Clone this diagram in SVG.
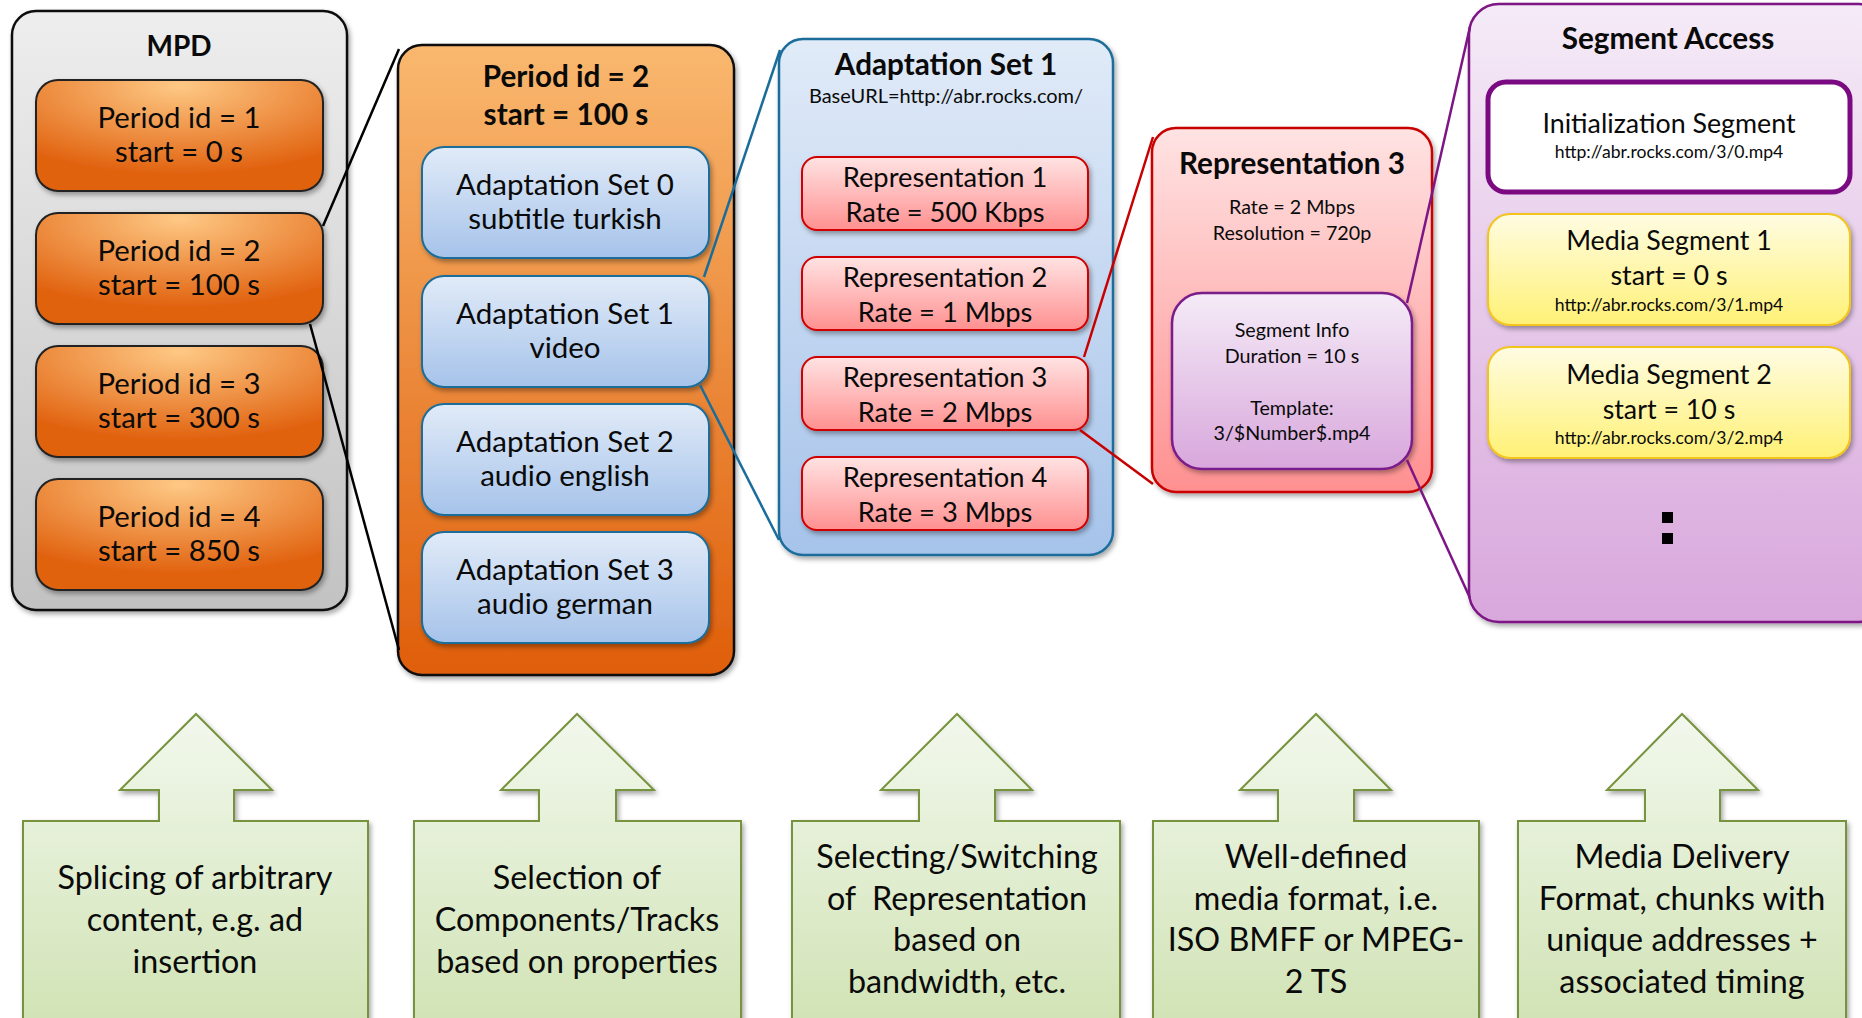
<svg xmlns="http://www.w3.org/2000/svg" width="1862" height="1018" viewBox="0 0 1862 1018">
<defs>
<style>
text{font-family:Lato,"Open Sans","Liberation Sans",sans-serif;fill:#0a0a0a;text-anchor:middle}
.b{font-weight:bold}
.tp{font-size:29.3px}
.ta{font-size:29.5px}
.tr{font-size:27.3px}
.tm{font-size:26.8px}
.tb{font-size:29.7px}
.ts{font-size:19.7px}
.tu{font-size:20px}
.t17{font-size:17.6px}
.bt{font-size:32.3px}
.con{fill:none;stroke-width:2.5}
</style>
<filter id="sh" x="-10%" y="-10%" width="125%" height="125%">
<feDropShadow dx="2" dy="3" stdDeviation="2.5" flood-color="#000" flood-opacity="0.35"/>
</filter>
<linearGradient id="gMpd" x1="0" y1="0" x2="0" y2="1"><stop offset="0" stop-color="#eeeeee"/><stop offset="1" stop-color="#c2c2c2"/></linearGradient>
<radialGradient id="gPer" cx="0.5" cy="0.05" r="0.8"><stop offset="0" stop-color="#fec985"/><stop offset="1" stop-color="#e1620f"/></radialGradient>
<linearGradient id="gPerBig" x1="0" y1="0" x2="0" y2="1"><stop offset="0" stop-color="#f9b86f"/><stop offset="1" stop-color="#df5e0a"/></linearGradient>
<linearGradient id="gBlue" x1="0" y1="0" x2="0" y2="1"><stop offset="0" stop-color="#e1ebf8"/><stop offset="1" stop-color="#a6c3ea"/></linearGradient>
<linearGradient id="gRed" x1="0" y1="0" x2="0" y2="1"><stop offset="0" stop-color="#ffe3e3"/><stop offset="1" stop-color="#ff9090"/></linearGradient>
<linearGradient id="gPur" x1="0" y1="0" x2="0" y2="1"><stop offset="0" stop-color="#f5ebf7"/><stop offset="1" stop-color="#d8a7dc"/></linearGradient>
<linearGradient id="gYel" x1="0" y1="0" x2="0" y2="1"><stop offset="0" stop-color="#fffce2"/><stop offset="1" stop-color="#fff176"/></linearGradient>
<linearGradient id="gGrn" x1="0" y1="0" x2="0" y2="1"><stop offset="0" stop-color="#f2f8ed"/><stop offset="1" stop-color="#cfe2b2"/></linearGradient>
</defs>
<rect width="1862" height="1018" fill="#ffffff"/>

<g id="mpd">
<rect x="12" y="11" width="335" height="599" rx="24" fill="url(#gMpd)" stroke="#111" stroke-width="2.5" filter="url(#sh)"/>
<text x="179" y="56" class="b" style="font-size:28px">MPD</text>
</g>
<g id="period1">
<rect x="36" y="80" width="287" height="111" rx="22" fill="url(#gPer)" stroke="#222" stroke-width="2" filter="url(#sh)"/>
<text x="179" y="128" class="tp">Period id = 1</text>
<text x="179" y="162" class="tp">start = 0 s</text>
</g>
<g id="period2">
<rect x="36" y="213" width="287" height="111" rx="22" fill="url(#gPer)" stroke="#222" stroke-width="2" filter="url(#sh)"/>
<text x="179" y="261" class="tp">Period id = 2</text>
<text x="179" y="295" class="tp">start = 100 s</text>
</g>
<g id="period3">
<rect x="36" y="346" width="287" height="111" rx="22" fill="url(#gPer)" stroke="#222" stroke-width="2" filter="url(#sh)"/>
<text x="179" y="394" class="tp">Period id = 3</text>
<text x="179" y="428" class="tp">start = 300 s</text>
</g>
<g id="period4">
<rect x="36" y="479" width="287" height="111" rx="22" fill="url(#gPer)" stroke="#222" stroke-width="2" filter="url(#sh)"/>
<text x="179" y="527" class="tp">Period id = 4</text>
<text x="179" y="561" class="tp">start = 850 s</text>
</g>

<g id="periodDetail">
<rect x="398" y="45" width="336" height="630" rx="24" fill="url(#gPerBig)" stroke="#111" stroke-width="2.5" filter="url(#sh)"/>
<text x="566" y="87" class="b tb">Period id = 2</text>
<text x="566" y="125" class="b tb">start = 100 s</text>
</g>
<g id="as0">
<rect x="422" y="147" width="287" height="111" rx="22" fill="url(#gBlue)" stroke="#1a6d9a" stroke-width="2" filter="url(#sh)"/>
<text x="565" y="195" class="ta">Adaptation Set 0</text>
<text x="565" y="229" class="ta">subtitle turkish</text>
</g>
<g id="as1">
<rect x="422" y="276" width="287" height="111" rx="22" fill="url(#gBlue)" stroke="#1a6d9a" stroke-width="2" filter="url(#sh)"/>
<text x="565" y="324" class="ta">Adaptation Set 1</text>
<text x="565" y="358" class="ta">video</text>
</g>
<g id="as2">
<rect x="422" y="404" width="287" height="111" rx="22" fill="url(#gBlue)" stroke="#1a6d9a" stroke-width="2" filter="url(#sh)"/>
<text x="565" y="452" class="ta">Adaptation Set 2</text>
<text x="565" y="486" class="ta">audio english</text>
</g>
<g id="as3">
<rect x="422" y="532" width="287" height="111" rx="22" fill="url(#gBlue)" stroke="#1a6d9a" stroke-width="2" filter="url(#sh)"/>
<text x="565" y="580" class="ta">Adaptation Set 3</text>
<text x="565" y="614" class="ta">audio german</text>
</g>

<g id="asDetail">
<rect x="779" y="39" width="334" height="516" rx="24" fill="url(#gBlue)" stroke="#1a6d9a" stroke-width="2.5" filter="url(#sh)"/>
<text x="946" y="75" class="b tb">Adaptation Set 1</text>
<text x="946" y="103" class="tu">BaseURL=http://abr.rocks.com/</text>
</g>
<g id="rep1">
<rect x="802" y="157" width="286" height="73" rx="15" fill="url(#gRed)" stroke="#d10000" stroke-width="2" filter="url(#sh)"/>
<text x="945" y="187" class="tr">Representation 1</text>
<text x="945" y="222" class="tr">Rate = 500 Kbps</text>
</g>
<g id="rep2">
<rect x="802" y="257" width="286" height="73" rx="15" fill="url(#gRed)" stroke="#d10000" stroke-width="2" filter="url(#sh)"/>
<text x="945" y="287" class="tr">Representation 2</text>
<text x="945" y="322" class="tr">Rate = 1 Mbps</text>
</g>
<g id="rep3">
<rect x="802" y="357" width="286" height="73" rx="15" fill="url(#gRed)" stroke="#d10000" stroke-width="2" filter="url(#sh)"/>
<text x="945" y="387" class="tr">Representation 3</text>
<text x="945" y="422" class="tr">Rate = 2 Mbps</text>
</g>
<g id="rep4">
<rect x="802" y="457" width="286" height="73" rx="15" fill="url(#gRed)" stroke="#d10000" stroke-width="2" filter="url(#sh)"/>
<text x="945" y="487" class="tr">Representation 4</text>
<text x="945" y="522" class="tr">Rate = 3 Mbps</text>
</g>

<g id="repDetail">
<rect x="1152" y="128" width="280" height="364" rx="24" fill="url(#gRed)" stroke="#c80000" stroke-width="2.5" filter="url(#sh)"/>
<text x="1292" y="174" class="b tb">Representation 3</text>
<text x="1292" y="214" class="ts">Rate = 2 Mbps</text>
<text x="1292" y="240" class="ts">Resolution = 720p</text>
</g>
<g id="segInfo">
<rect x="1172" y="293" width="240" height="176" rx="30" fill="url(#gPur)" stroke="#7a1a8a" stroke-width="2.5" filter="url(#sh)"/>
<text x="1292" y="337" class="ts">Segment Info</text>
<text x="1292" y="363" class="ts">Duration = 10 s</text>
<text x="1292" y="415" class="ts">Template:</text>
<text x="1292" y="440" class="ts">3/$Number$.mp4</text>
</g>

<g id="segAccess">
<rect x="1469" y="4" width="420" height="618" rx="30" fill="url(#gPur)" stroke="#7d1685" stroke-width="2.5" filter="url(#sh)"/>
<text x="1668" y="49" class="b tb">Segment Access</text>
<rect x="1662" y="512" width="11" height="11" fill="#000"/>
<rect x="1662" y="533" width="11" height="11" fill="#000"/>
</g>
<g id="initSeg">
<rect x="1488" y="82" width="362" height="110" rx="18" fill="#ffffff" stroke="#7b0a82" stroke-width="5"/>
<text x="1669" y="133" class="tm">Initialization Segment</text>
<text x="1669" y="158" class="t17">http://abr.rocks.com/3/0.mp4</text>
</g>
<g id="mediaSeg1">
<rect x="1488" y="214" width="362" height="111" rx="22" fill="url(#gYel)" stroke="#f3c41a" stroke-width="2" filter="url(#sh)"/>
<text x="1669" y="250" class="tm">Media Segment 1</text>
<text x="1669" y="285" class="tm">start = 0 s</text>
<text x="1669" y="311" class="t17">http://abr.rocks.com/3/1.mp4</text>
</g>
<g id="mediaSeg2">
<rect x="1488" y="347" width="362" height="111" rx="22" fill="url(#gYel)" stroke="#f3c41a" stroke-width="2" filter="url(#sh)"/>
<text x="1669" y="384" class="tm">Media Segment 2</text>
<text x="1669" y="419" class="tm">start = 10 s</text>
<text x="1669" y="444" class="t17">http://abr.rocks.com/3/2.mp4</text>
</g>

<g id="connectors">
<line x1="323" y1="226" x2="399" y2="49" class="con" stroke="#000"/>
<line x1="310" y1="324" x2="399" y2="650" class="con" stroke="#000"/>
<line x1="704" y1="277" x2="780" y2="50" class="con" stroke="#1a6d9a"/>
<line x1="700" y1="385" x2="779" y2="540" class="con" stroke="#1a6d9a"/>
<line x1="1084" y1="357" x2="1153" y2="137" class="con" stroke="#c80000"/>
<line x1="1080" y1="430" x2="1153" y2="484" class="con" stroke="#c80000"/>
<line x1="1407" y1="303" x2="1470" y2="27" class="con" stroke="#7d1685"/>
<line x1="1407" y1="460" x2="1470" y2="598" class="con" stroke="#7d1685"/>
</g>

<g id="callout1">
<path d="M23,821 H159 V790 H120 L196,714 L272,790 H234 V821 H368 V1040 H23 Z" fill="url(#gGrn)" stroke="#77933c" stroke-width="2" filter="url(#sh)"/>
<text x="195" y="889" class="bt">Splicing of arbitrary</text>
<text x="195" y="931" class="bt">content, e.g. ad</text>
<text x="195" y="973" class="bt">insertion</text>
</g>
<g id="callout2">
<path d="M414,821 H539 V790 H501 L577,714 L654,790 H616 V821 H741 V1040 H414 Z" fill="url(#gGrn)" stroke="#77933c" stroke-width="2" filter="url(#sh)"/>
<text x="577" y="889" class="bt">Selection of</text>
<text x="577" y="931" class="bt">Components/Tracks</text>
<text x="577" y="973" class="bt">based on properties</text>
</g>
<g id="callout3">
<path d="M792,821 H919 V790 H881 L957,714 L1032,790 H995 V821 H1120 V1040 H792 Z" fill="url(#gGrn)" stroke="#77933c" stroke-width="2" filter="url(#sh)"/>
<text x="957" y="868" class="bt">Selecting/Switching</text>
<text x="957" y="910" class="bt" style="white-space:pre">of  Representation</text>
<text x="957" y="951" class="bt">based on</text>
<text x="957" y="993" class="bt">bandwidth, etc.</text>
</g>
<g id="callout4">
<path d="M1153,821 H1278 V790 H1240 L1316,714 L1391,790 H1354 V821 H1479 V1040 H1153 Z" fill="url(#gGrn)" stroke="#77933c" stroke-width="2" filter="url(#sh)"/>
<text x="1316" y="868" class="bt">Well-defined</text>
<text x="1316" y="910" class="bt">media format, i.e.</text>
<text x="1316" y="951" class="bt">ISO BMFF or MPEG-</text>
<text x="1316" y="993" class="bt">2 TS</text>
</g>
<g id="callout5">
<path d="M1518,821 H1645 V790 H1607 L1682,714 L1758,790 H1720 V821 H1846 V1040 H1518 Z" fill="url(#gGrn)" stroke="#77933c" stroke-width="2" filter="url(#sh)"/>
<text x="1682" y="868" class="bt">Media Delivery</text>
<text x="1682" y="910" class="bt">Format, chunks with</text>
<text x="1682" y="951" class="bt">unique addresses +</text>
<text x="1682" y="993" class="bt">associated timing</text>
</g>
</svg>
